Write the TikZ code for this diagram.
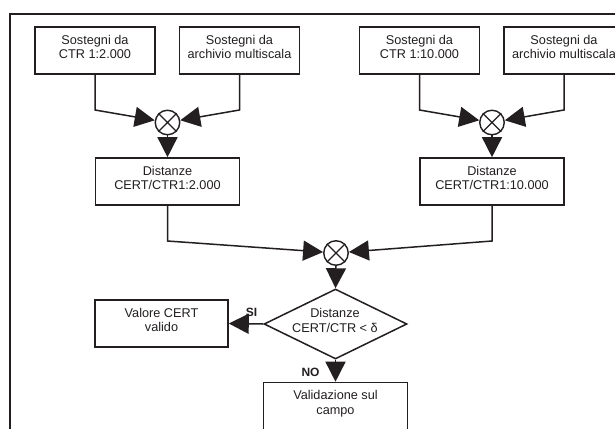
\documentclass[tikz,border=0pt]{standalone}
\usepackage{fontspec}
\setmainfont{Liberation Sans}
\usetikzlibrary{arrows.meta,shapes.geometric,shapes.misc}
\definecolor{ink}{HTML}{231F20}
\tikzset{
  x=1pt,y=-1pt,
  every node/.style={text=ink,font=\fontsize{12.7}{14.8}\selectfont},
  boxnode/.style={draw=ink,line width=1.6pt,fill=white,rectangle,inner sep=0pt,minimum width=#1,minimum height=47pt},
  boxtext/.style={align=center,anchor=north,inner sep=0pt},
  ring/.style={draw=ink,line width=1.4pt,fill=white,circle,inner sep=0pt,minimum size=24.5pt},
  wire/.style={draw=ink,line width=1.5pt,line join=miter},
  flow/.style={wire,-{Triangle[length=20pt,width=20pt,color=ink]}},
  tag/.style={font=\fontsize{12}{14}\selectfont\bfseries}
}
\newcommand{\boxat}[5]{\node[boxnode=#4] (#1) at (#2,#3) {};
  \node[boxtext] (#1t) at ([yshift=-8.5pt]#1.north) {#5};}
\newcommand{\ringat}[3]{\node[ring] (#1) at (#2,#3) {};
  \draw[draw=ink,line width=1.3pt] (#1.45) -- (#1.225) (#1.135) -- (#1.315);}
\begin{document}
\begin{tikzpicture}
\useasboundingbox (0,0) rectangle (615,428);
\clip (0,0) rectangle (615,428);
\fill[white] (0,0) rectangle (615,428);
\draw[draw=ink,line width=1.6pt] (10,450) -- (10,14) -- (640,14);

\boxat{a}{95}{50.5}{120pt}{Sostegni da\\CTR 1:2.000}
\boxat{b}{239.5}{50.5}{120pt}{Sostegni da\\archivio multiscala}
\boxat{c}{167.5}{181.5}{144pt}{Distanze\\CERT/CTR1:2.000}
\boxat{d}{419.5}{50.5}{120pt}{Sostegni da\\CTR 1:10.000}
\boxat{e}{564}{50.5}{120pt}{Sostegni da\\archivio multiscala}
\boxat{f}{492}{181.5}{144pt}{Distanze\\CERT/CTR1:10.000}
\boxat{g}{161.5}{323.5}{133pt}{Valore CERT\\valido}
\boxat{h}{335.5}{406}{144pt}{Validazione sul\\campo}

\ringat{m1}{167.5}{122.5}
\ringat{m2}{492}{122.5}
\ringat{m3}{336}{253}

\node[diamond,draw=ink,line width=1.5pt,fill=white,aspect=2.05,inner sep=0pt,minimum width=143pt,minimum height=70pt,align=center] (q) at (335.5,324) {};
\node[align=center,inner sep=0pt] (qt) at (335,320.5) {Distanze\\CERT/CTR < δ};

\coordinate (a1) at (95,110);
\coordinate (b1) at (239.5,110);
\coordinate (d1) at (419.5,110);
\coordinate (e1) at (564,110);
\coordinate (c1) at (167.5,241);
\coordinate (f1) at (492,241);

\draw[flow] (a.south) -- (a1) -- (m1);
\draw[flow] (b.south) -- (b1) -- (m1);
\draw[flow] (m1.south) -- (c.north);
\draw[flow] (d.south) -- (d1) -- (m2);
\draw[flow] (e.south) -- (e1) -- (m2);
\draw[flow] (m2.south) -- (f.north);
\draw[flow] (c.south) -- (c1) -- (m3);
\draw[flow] (f.south) -- (f1) -- (m3);
\draw[flow] (m3.south) -- (q.north);
\draw[flow] (q.west) -- (g.east);
\draw[flow] (q.south) -- (h.north);

\node[tag] (si) at (251.5,312) {SI};
\node[tag] (no) at (310.5,372) {NO};
\end{tikzpicture}
\end{document}
